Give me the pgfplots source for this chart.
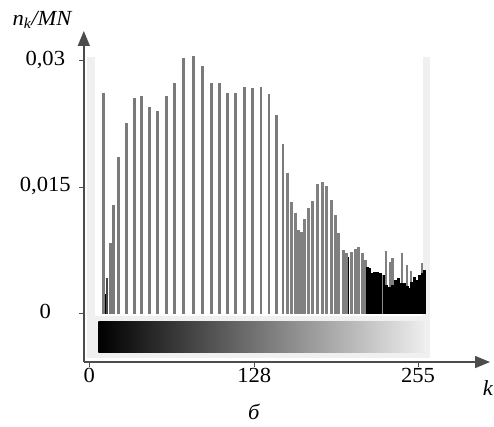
\documentclass[border=0pt]{standalone}
\usepackage{fontspec}
\setmainfont{Liberation Serif}[FakeStretch=1.05]
\usepackage{pgfplots}
\pgfplotsset{compat=1.18}
\usetikzlibrary{arrows.meta}
\newcommand{\lblfont}{\fontsize{21.5}{25}\selectfont}

\begin{document}
\begin{tikzpicture}
\begin{axis}[
    scale only axis,
    width=406.2pt, height=331pt,
    xmin=-4.26, xmax=310.9,
    ymin=-0.00576, ymax=0.03356,
    axis lines=left,
    axis line style={line width=1.4pt, black!70, -{Triangle[length=15pt,width=12pt]}},
    clip=false,
    scaled y ticks=false,
    xtick={0,128,255}, xticklabels={0,128,255},
    ytick={0,0.015,0.03}, yticklabels={0,{0,015},{0,03}},
    tick align=outside, major tick length=5pt,
    tick style={black!70, line width=1pt},
    tick label style={font=\lblfont},
    yticklabel style={anchor=base, xshift=-33.5pt, yshift=-4.5pt},
    xticklabel style={anchor=base, yshift=-15pt},
  ]
  % light frame behind the histogram
  \fill[black!6] (axis cs:-1.55,0.03047) rectangle (axis cs:264.3,-0.00529);
  \fill[white] (axis cs:4.65,0.0307) rectangle (axis cs:258.9,-0.0003);
  \shade[left color=black, right color=white!93!black]
    (axis cs:7.0,-0.00089) rectangle (axis cs:259.7,-0.00457);

  % dark bars at the low end
  \addplot[ycomb, black, line width=3pt] coordinates {(12.0,0.0023)};
  \addplot[ycomb, black!72, line width=2.2pt] coordinates {(14.0,0.00422)};

  % separated grey bars
  \addplot[ycomb, black!52, line width=2.6pt] coordinates {
    (10.9,0.0262) (16.3,0.00838) (18.6,0.01289) (22.5,0.01859) (28.7,0.02263)
    (34.9,0.0256) (40.3,0.02584) (46.5,0.02453) (52.7,0.02406) (59.7,0.02584)
    (65.9,0.02738) (72.9,0.03035) (80.6,0.03059) (87.6,0.0294) (94.6,0.02738)
    (100.8,0.02738) (107.0,0.0262) (113.2,0.0262) (120.2,0.02691) (126.4,0.02679)
    (133.3,0.02691) (139.5,0.02608) (145.0,0.02358) (150.2,0.02014)
  };

  % dense grey bars
  \addplot[ycomb, black!50, line width=3.1pt] coordinates {
    (153.5,0.01669) (156.6,0.01325) (159.7,0.01194) (162.0,0.00992) (164.3,0.00968)
    (166.7,0.01123) (169.8,0.01253) (172.9,0.01337) (176.7,0.01538) (180.6,0.01562)
    (184.1,0.01515) (187.6,0.01348) (190.7,0.0117) (193.0,0.00956) (196.9,0.00754)
    (199.2,0.00719) (203.1,0.00731) (206.2,0.00766) (208.5,0.0079) (211.6,0.00719)
    (213.9,0.00636)
  };
  \addplot[ycomb, black, line width=0.9pt] coordinates {(200.8,0.00671)};

  % grey spikes over the dark part
  \addplot[ycomb, black!50, line width=2.4pt] coordinates {
    (230.2,0.00742) (233.3,0.00612) (235.3,0.00659) (242.6,0.00719)
    (246.5,0.00576) (249.6,0.00505) (258.1,0.006)
  };

  % dark part
  \addplot[ycomb, black, line width=3pt] coordinates {
    (215.5,0.00552) (217.1,0.00541) (218.6,0.00481) (220.9,0.00493) (223.3,0.00493)
    (225.6,0.00481) (227.9,0.00457) (230.2,0.00339) (232.6,0.00315) (234.9,0.00339)
    (237.2,0.00398) (239.5,0.00422) (241.9,0.00362) (244.2,0.00362) (246.5,0.00327)
    (248.1,0.00303) (249.6,0.00374) (252.0,0.00434) (253.5,0.00398) (255.8,0.00457)
    (258.1,0.00481) (259.7,0.00517)
  };
  \addplot[ycomb, black!45, line width=0.8pt] coordinates {(227.2,0.0046)};

  \node[font=\lblfont\itshape] at (axis cs:-36.7,0.03487) {n\textsubscript{k}/MN};
  \node[font=\lblfont\itshape] at (axis cs:309.3,-0.00885) {k};
  \node[font=\lblfont\itshape, inner sep=1pt] at (axis cs:127.7,-0.0117) {б};

  \coordinate (bbl) at (axis cs:-69.28,-0.01337);
  \coordinate (btr) at (axis cs:313.95,0.03724);
\end{axis}
\pgfresetboundingbox
\path[use as bounding box] (bbl) rectangle (btr);
\end{tikzpicture}
\end{document}
